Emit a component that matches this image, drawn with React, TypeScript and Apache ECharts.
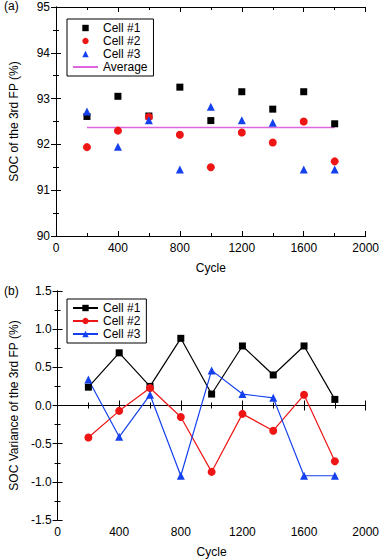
import React, { useEffect, useRef } from "react";
import * as echarts from "echarts";

const cycles = [200, 400, 600, 800, 1000, 1200, 1400, 1600, 1800];
const socCell1 = [92.61, 93.05, 92.62, 93.25, 92.52, 93.15, 92.77, 93.15, 92.45];
const socCell2 = [91.94, 92.3, 92.6, 92.21, 91.5, 92.26, 92.04, 92.5, 91.63];
const socCell3 = [92.72, 91.95, 92.53, 91.45, 92.82, 92.53, 92.47, 91.45, 91.45];
const socAverage = 92.37;
const varCell1 = [0.24, 0.69, 0.25, 0.88, 0.15, 0.78, 0.4, 0.78, 0.08];
const varCell2 = [-0.42, -0.07, 0.23, -0.15, -0.87, -0.11, -0.33, 0.14, -0.73];
const varCell3 = [0.34, -0.41, 0.14, -0.92, 0.46, 0.15, 0.1, -0.92, -0.92];
const seriesNames = ["Cell #1", "Cell #2", "Cell #3"];
const avgName = "Average";

const FONT = "'Liberation Sans', Arial, sans-serif";
const colors = ["#000000", "#ee1515", "#1440ee"];
const symbols = ["rect", "circle", "triangle"];
const symbolSizes = [7, 8, 8];
const avgColor = "#dd66dd";

const zip = (ys: number[]) => cycles.map((c, i) => [c, ys[i]]);

export default function App() {
  const ref = useRef<HTMLDivElement>(null);
  useEffect(() => {
    const chart = echarts.init(ref.current!, null, { renderer: "svg" });
    const axisLine = { show: true, lineStyle: { color: "#000", width: 1 } };
    const tick = { show: true, inside: true, length: 5, lineStyle: { color: "#000" } };
    const minor = { show: true, splitNumber: 2, length: 3, lineStyle: { color: "#000" } };
    const label = { color: "#000", fontFamily: FONT, fontSize: 12, margin: 6 };
    const nameStyle = { color: "#000", fontFamily: FONT, fontSize: 12 };

    const xAxisBase = (gridIndex: number) => ({
      type: "value",
      gridIndex,
      min: 0,
      max: 2000,
      interval: 400,
      axisLine,
      axisTick: tick,
      minorTick: minor,
      splitLine: { show: false },
    });
    const xAxes: any[] = [];
    const yAxes: any[] = [];
    [0, 1].forEach((g) => {
      xAxes.push({
        ...xAxisBase(g),
        position: "bottom",
        name: "Cycle",
        nameLocation: "middle",
        nameGap: 26,
        nameTextStyle: nameStyle,
        axisLabel: { ...label, formatter: (v: number) => String(v) },
      });
      xAxes.push({ ...xAxisBase(g), position: "top", axisLabel: { show: false } });
    });
    const yRanges = [
      { min: 90, max: 95, interval: 1, name: "SOC of the 3rd FP (%)", fmt: (v: number) => v.toFixed(0) },
      { min: -1.5, max: 1.5, interval: 0.5, name: "SOC Variance of the 3rd FP (%)", fmt: (v: number) => v.toFixed(1) },
    ];
    yRanges.forEach((r, g) => {
      const base = {
        type: "value",
        gridIndex: g,
        min: r.min,
        max: r.max,
        interval: r.interval,
        axisLine,
        axisTick: tick,
        minorTick: minor,
        splitLine: { show: false },
      };
      yAxes.push({
        ...base,
        position: "left",
        name: r.name,
        nameLocation: "middle",
        nameGap: 36,
        nameTextStyle: nameStyle,
        axisLabel: { ...label, formatter: r.fmt },
      });
      yAxes.push({ ...base, position: "right", axisLabel: { show: false } });
    });

    const topData = [socCell1, socCell2, socCell3];
    const botData = [varCell1, varCell2, varCell3];
    const series: any[] = [];
    topData.forEach((d, i) => {
      series.push({
        name: seriesNames[i],
        type: "line",
        xAxisIndex: 0,
        yAxisIndex: 0,
        data: zip(d),
        symbol: symbols[i],
        symbolSize: symbolSizes[i],
        itemStyle: { color: colors[i] },
        lineStyle: { width: 0, opacity: 0 },
        z: 3,
      });
    });
    series.push({
      name: avgName,
      type: "line",
      xAxisIndex: 0,
      yAxisIndex: 0,
      data: [
        [cycles[0], socAverage],
        [cycles[cycles.length - 1], socAverage],
      ],
      symbol: "none",
      itemStyle: { color: avgColor },
      lineStyle: { color: avgColor, width: 1.5 },
      z: 2,
    });
    botData.forEach((d, i) => {
      series.push({
        name: seriesNames[i] + " ",
        type: "line",
        xAxisIndex: 2,
        yAxisIndex: 2,
        data: zip(d),
        symbol: symbols[i],
        symbolSize: symbolSizes[i],
        itemStyle: { color: colors[i] },
        lineStyle: { color: colors[i], width: 1.2 },
      });
    });

    const legendCommon = {
      orient: "vertical",
      left: 67,
      itemWidth: 25,
      itemHeight: 8,
      itemGap: 1,
      padding: [3, 6, 3, 5],
      borderColor: "#000",
      borderWidth: 1,
      borderRadius: 0,
      textStyle: { color: "#000", fontFamily: FONT, fontSize: 12, padding: [0, 0, 0, 0] },
      inactiveColor: "#000",
    };

    chart.setOption({
      animation: false,
      grid: [
        { left: 52, right: 14, top: 7, height: 229 },
        { left: 52, right: 14, top: 291, height: 230 },
      ],
      xAxis: xAxes,
      yAxis: yAxes,
      legend: [
        {
          ...legendCommon,
          top: 19,
          data: [
            { name: seriesNames[0], lineStyle: { width: 0, opacity: 0 } },
            { name: seriesNames[1], lineStyle: { width: 0, opacity: 0 } },
            { name: seriesNames[2], lineStyle: { width: 0, opacity: 0 } },
            { name: avgName, itemStyle: { opacity: 0 } },
          ],
        },
        {
          ...legendCommon,
          top: 299,
          formatter: (n: string) => n.trim(),
          data: seriesNames.map((n) => n + " "),
        },
      ],
      graphic: [
        { type: "text", left: 4, top: 0, style: { text: "(a)", fontFamily: FONT, fontSize: 12, fill: "#000" } },
        { type: "text", left: 4, top: 285, style: { text: "(b)", fontFamily: FONT, fontSize: 12, fill: "#000" } },
      ],
      series,
    });
    return () => chart.dispose();
  }, []);
  return (
    <div
      ref={ref}
      style={{ position: "absolute", left: 0, top: 0, width: 382, height: 559, background: "#fff" }}
    />
  );
}
